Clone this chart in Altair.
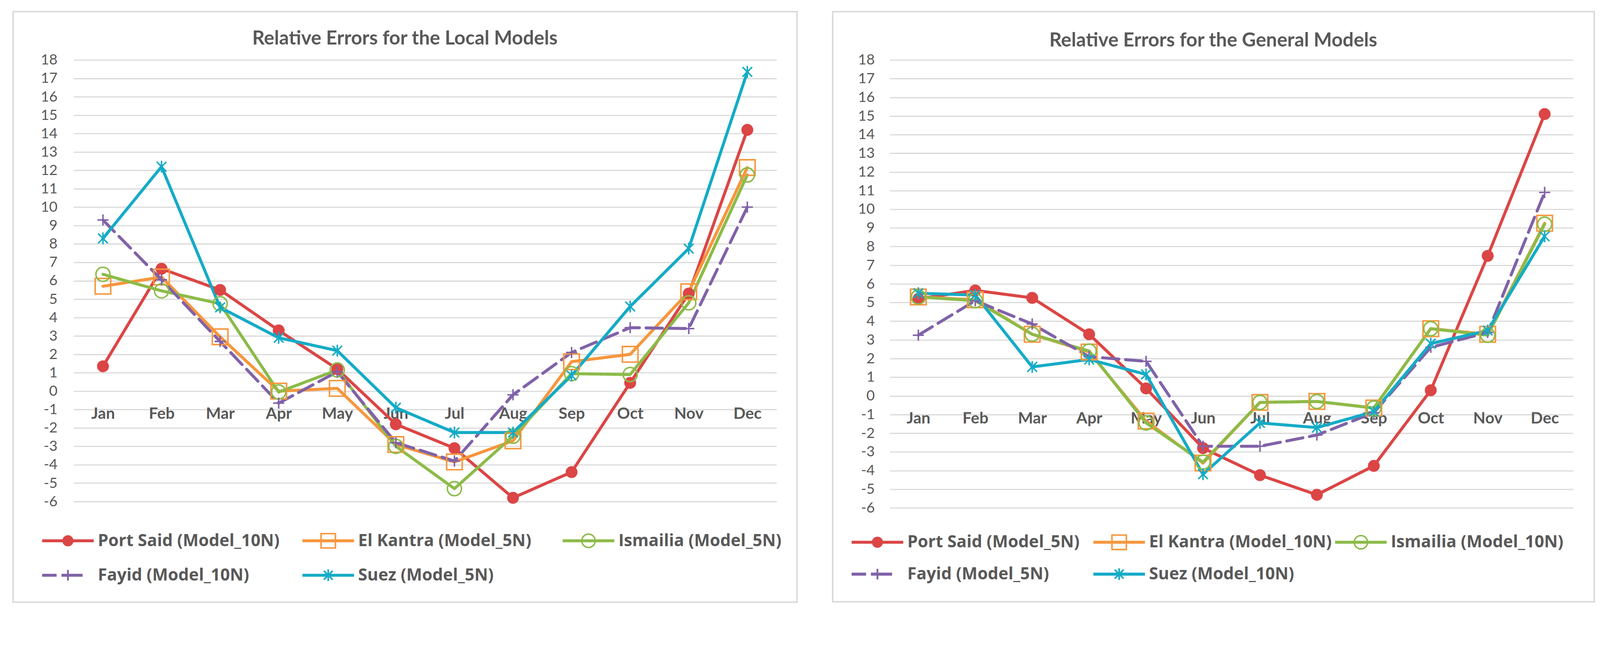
import math
import altair as alt
import pandas as pd

months = ["Jan", "Feb", "Mar", "Apr", "May", "Jun", "Jul", "Aug", "Sep", "Oct", "Nov", "Dec"]
y_ticks = [-6, -5, -4, -3, -2, -1, 0, 1, 2, 3, 4, 5, 6, 7, 8, 9, 10, 11, 12, 13, 14, 15, 16, 17, 18]

local_title = "Relative Errors for the Local Models"
local_series = ["Port Said (Model_10N)", "El Kantra (Model_5N)", "Ismailia (Model_5N)",
                "Fayid (Model_10N)", "Suez (Model_5N)"]
local_port_said = [1.35, 6.65, 5.5, 3.3, 1.2, -1.8, -3.1, -5.8, -4.4, 0.45, 5.3, 14.2]
local_el_kantra = [5.7, 6.2, 2.95, 0.0, 0.15, -2.9, -3.85, -2.7, 1.6, 2.0, 5.4, 12.15]
local_ismailia = [6.35, 5.45, 4.75, -0.05, 1.15, -3.0, -5.3, -2.45, 0.95, 0.9, 4.8, 11.75]
local_fayid = [9.3, 6.05, 2.7, -0.65, 1.05, -2.8, -3.8, -0.2, 2.1, 3.45, 3.4, 10.0]
local_suez = [8.3, 12.2, 4.55, 2.9, 2.2, -0.9, -2.25, -2.25, 0.85, 4.6, 7.75, 17.35]

general_title = "Relative Errors for the General Models"
general_series = ["Port Said (Model_5N)", "El Kantra (Model_10N)", "Ismailia (Model_10N)",
                  "Fayid (Model_5N)", "Suez (Model_10N)"]
general_port_said = [5.2, 5.65, 5.25, 3.3, 0.4, -2.8, -4.25, -5.3, -3.75, 0.3, 7.5, 15.1]
general_el_kantra = [5.3, 5.15, 3.3, 2.35, -1.35, -3.6, -0.35, -0.3, -0.65, 3.6, 3.3, 9.25]
general_ismailia = [5.3, 5.1, 3.3, 2.4, -1.45, -3.55, -0.35, -0.3, -0.65, 3.6, 3.25, 9.2]
general_fayid = [3.25, 5.1, 3.85, 2.1, 1.85, -2.7, -2.7, -2.1, -0.9, 2.6, 3.4, 10.9]
general_suez = [5.5, 5.4, 1.55, 1.95, 1.15, -4.2, -1.45, -1.7, -0.85, 2.8, 3.5, 8.55]

# styles
colors = ["#DC4545", "#F7963C", "#8CBB48", "#8062A8", "#14ABC6"]
fills = ["#DC4545", "transparent", "transparent", "transparent", "transparent"]
dashes = [[1, 0], [1, 0], [1, 0], [44, 18], [1, 0]]
TEXT = "#595959"
GRID = "#D9D9D9"
FONT = "Lato"
LEGEND_FONT = "Open Sans"
LEGEND_SIZE = 45


def circ(r, cw=True):
    s = 1 if cw else 0
    return f"M{r},0A{r},{r},0,1,{s},{-r},0A{r},{r},0,1,{s},{r},0Z"


def rect(x1, x2, h):
    return f"M{x1},{-h}H{x2}V{h}H{x1}Z"


# plot markers (stroked)
marker_paths = [
    circ(0.7),
    "M-1.05,-1.05H1.05V1.05H-1.05Z",
    circ(0.95),
    "M-0.75,0H0.75M0,-0.75V0.75",
    "M-0.65,-0.65L0.65,0.65M-0.65,0.65L0.65,-0.65M0,-0.8V0.8",
]

# legend symbols (filled outlines: line + marker, holes by opposite winding)
LINE = rect(-3.475, 3.475, 0.2)
VEXT = "M0,-1.35M0,1.35"
ASTER = ("M-0.522,-0.678L0.678,0.522L0.522,0.678L-0.678,-0.522Z"
         "M-0.522,0.678L-0.678,0.522L0.522,-0.678L0.678,-0.522Z"
         "M-0.11,-0.78H0.11V0.78H-0.11Z")
legend_paths = [
    LINE + circ(0.75) + VEXT,
    LINE + "M-1.07,-1.07H1.07V1.07H-1.07Z" + "M-0.87,-0.87V0.87H0.87V-0.87Z" + VEXT,
    LINE + circ(1.0) + circ(0.8, cw=False) + VEXT,
    rect(-3.475, -1.525, 0.2) + rect(-0.875, 1.975, 0.2)
    + "M-0.75,-0.12H0.75V0.12H-0.75Z" + "M-0.12,-0.72H0.12V0.72H-0.12Z" + VEXT,
    LINE + ASTER + VEXT,
]


def panel(title, series, values, W, H, box, title_xy, leg_x, leg_y, col_pad, row_pad, ylab_pad):
    rows = []
    for name, vals in zip(series, values):
        for m, v in zip(months, vals):
            rows.append({"month": m, "value": v, "s": name})
    df = pd.DataFrame(rows)

    sym_size = 1600
    off = max(math.ceil(math.sqrt(sym_size)), LEGEND_SIZE)
    sym_offset = 69.5 - off / 2
    lab_offset = 150 - off - sym_offset
    legend = alt.Legend(
        orient="none", legendX=leg_x, legendY=leg_y, columns=3, direction="horizontal",
        gridAlign="all", columnPadding=col_pad, rowPadding=row_pad,
        symbolSize=sym_size, symbolStrokeWidth=0, symbolOffset=sym_offset,
        labelOffset=lab_offset, labelFont=LEGEND_FONT, labelFontSize=LEGEND_SIZE,
        labelFontWeight="bold", labelColor=TEXT, labelLimit=2000, title=None,
        padding=0, symbolOpacity=1,
    )

    x_enc = alt.X(
        "month:N", sort=months, scale=alt.Scale(domain=months),
        axis=alt.Axis(orient="bottom", offset=-H * 6 / 24, domain=False, ticks=False,
                      labelAngle=0, labelFont=FONT, labelFontSize=43, labelFontWeight="bold",
                      labelColor=TEXT, labelPadding=40, title=None, grid=False),
    )
    y_enc = alt.Y(
        "value:Q", scale=alt.Scale(domain=[-6, 18], nice=False, zero=False),
        axis=alt.Axis(values=y_ticks, grid=True, gridColor=GRID, gridWidth=3, domain=False,
                      ticks=False, labelPadding=ylab_pad, title=None, labelFont=FONT,
                      labelFontSize=39, labelColor=TEXT, labelOverlap=False,
                      labelExpr="'' + datum.value"),
    )

    border = alt.Chart(pd.DataFrame({"a": [0]})).mark_rect(
        fillOpacity=0, stroke=GRID, strokeWidth=4
    ).encode(
        x=alt.value(box[0]), x2=alt.value(W + box[1]),
        y=alt.value(box[2]), y2=alt.value(H + box[3]),
    )
    title_mark = alt.Chart(pd.DataFrame({"t": [title]})).mark_text(
        font=FONT, fontSize=52, fontWeight="bold", color=TEXT, align="center", baseline="middle"
    ).encode(text="t:N", x=alt.value(title_xy[0]), y=alt.value(title_xy[1]))

    lines = alt.Chart(df).mark_line(strokeWidth=8, strokeCap="round", strokeJoin="round").encode(
        x=x_enc, y=y_enc,
        color=alt.Color("s:N", scale=alt.Scale(domain=series, range=colors), legend=None),
        strokeDash=alt.StrokeDash("s:N", scale=alt.Scale(domain=series, range=dashes), legend=None),
    )
    points = alt.Chart(df).mark_point(size=1600, strokeWidth=4, opacity=1).encode(
        x=x_enc, y=y_enc,
        shape=alt.Shape("s:N", scale=alt.Scale(domain=series, range=marker_paths), legend=None),
        stroke=alt.Stroke("s:N", scale=alt.Scale(domain=series, range=colors), legend=None),
        fill=alt.Fill("s:N", scale=alt.Scale(domain=series, range=fills), legend=None),
    )
    legend_layer = alt.Chart(pd.DataFrame({"s": series})).transform_filter("false").mark_point(
        filled=True, strokeWidth=0, opacity=1, size=sym_size
    ).encode(
        shape=alt.Shape("s:N", scale=alt.Scale(domain=series, range=legend_paths), legend=legend),
        fill=alt.Fill("s:N", scale=alt.Scale(domain=series, range=colors), legend=legend),
    )
    return alt.layer(border, title_mark, lines, points, legend_layer).resolve_scale(
        shape="independent", fill="independent"
    ).properties(width=W, height=H)


left = panel(local_title, local_series,
             [local_port_said, local_el_kantra, local_ismailia, local_fayid, local_suez],
             1893, 1189, (-163, 55, -130, 271), (892, -57), -85, 1272, 61, 38, 44)
right = panel(general_title, general_series,
              [general_port_said, general_el_kantra, general_ismailia, general_fayid, general_suez],
              1840, 1206, (-154, 57, -130, 253), (871, -52), -103, 1276, 8, 31, 41)

chart = alt.hconcat(left, right, spacing=92).resolve_scale(
    x="independent", y="independent", color="independent", strokeDash="independent",
    shape="independent", fill="independent", stroke="independent",
).resolve_legend(
    shape="independent", fill="independent",
).configure_view(stroke=None).properties(
    padding={"left": 25, "top": -20, "right": 5, "bottom": 5}, background="white"
)

chart.save("out.html", embed_options={"renderer": "svg", "actions": False})
